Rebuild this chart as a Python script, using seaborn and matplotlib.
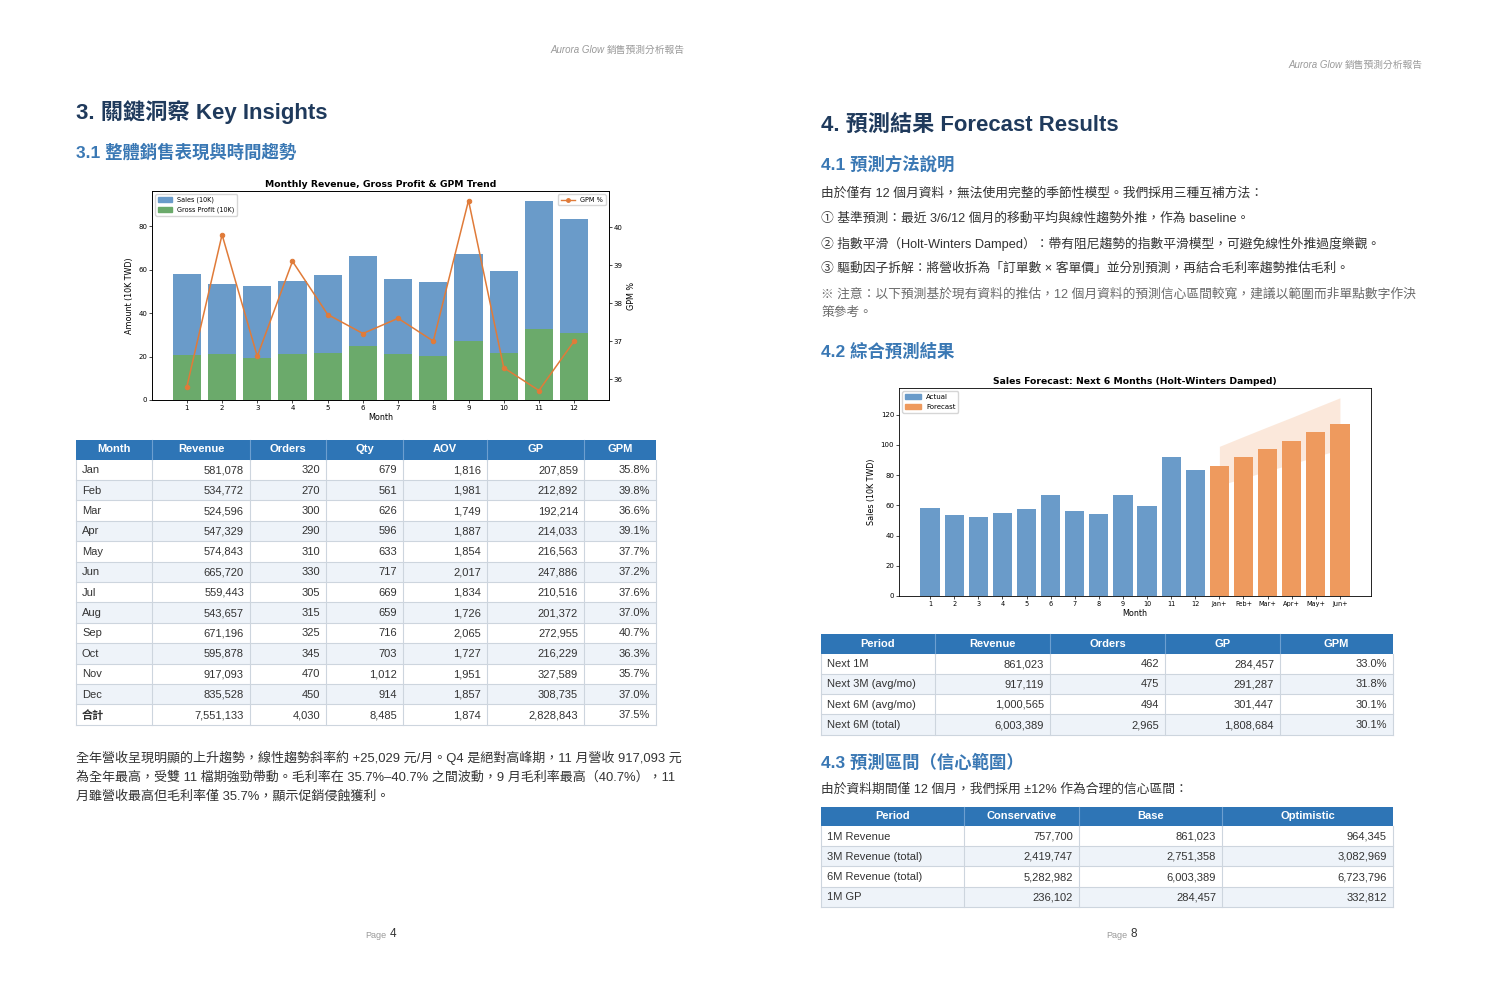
import matplotlib
matplotlib.use("Agg")
import matplotlib.pyplot as plt
import seaborn as sns
import numpy as np
import pandas as pd
from matplotlib.patches import Rectangle, Patch
from matplotlib.lines import Line2D

# ---------------- data ----------------
month_names = ["Jan", "Feb", "Mar", "Apr", "May", "Jun", "Jul", "Aug", "Sep", "Oct", "Nov", "Dec"]
month_nums = [1, 2, 3, 4, 5, 6, 7, 8, 9, 10, 11, 12]
revenue = [581078, 534772, 524596, 547329, 574843, 665720, 559443, 543657, 671196, 595878, 917093, 835528]
orders = [320, 270, 300, 290, 310, 330, 305, 315, 325, 345, 470, 450]
qty = [679, 561, 626, 596, 633, 717, 669, 659, 716, 703, 1012, 914]
aov = [1816, 1981, 1749, 1887, 1854, 2017, 1834, 1726, 2065, 1727, 1951, 1857]
gross_profit = [207859, 212892, 192214, 214033, 216563, 247886, 210516, 201372, 272955, 216229, 327589, 308735]
gpm = [35.8, 39.8, 36.6, 39.1, 37.7, 37.2, 37.6, 37.0, 40.7, 36.3, 35.7, 37.0]
totals = ["合計", 7551133, 4030, 8485, 1874, 2828843, 37.5]

forecast_labels = ["Jan+", "Feb+", "Mar+", "Apr+", "May+", "Jun+"]
forecast_sales = [86.10, 91.70, 97.31, 102.75, 108.45, 114.03]   # 10K TWD
forecast_lower = [73.2, 77.9, 82.7, 87.3, 92.2, 96.9]
forecast_upper = [99.0, 105.5, 111.9, 118.2, 124.7, 131.1]

fc_periods = ["Next 1M", "Next 3M (avg/mo)", "Next 6M (avg/mo)", "Next 6M (total)"]
fc_revenue = [861023, 917119, 1000565, 6003389]
fc_orders = [462, 475, 494, 2965]
fc_gp = [284457, 291287, 301447, 1808684]
fc_gpm = [33.0, 31.8, 30.1, 30.1]

ci_periods = ["1M Revenue", "3M Revenue (total)", "6M Revenue (total)", "1M GP"]
ci_conservative = [757700, 2419747, 5282982, 236102]
ci_base = [861023, 2751358, 6003389, 284457]
ci_optimistic = [964345, 3082969, 6723796, 332812]

# ---------------- style ----------------
W, H = 1496, 984
plt.rcParams["font.family"] = ["DejaVu Sans"]
PAGE_FONT = ["Liberation Sans", "Noto Sans CJK TC", "DejaVu Sans"]
BLUE = "#6A9BC9"
GREEN = "#6BAA6B"
ORANGE = "#E07B39"
ORANGE2 = "#EE9A5E"
HDR = "#2E75B6"
ALT = "#EEF3F9"
GRID = "#CDD5DE"
H1 = "#1F3A5C"
H2 = "#3A78B4"
TXT = "#333333"

fig = plt.figure(figsize=(W / 100, H / 100), dpi=100)
page = fig.add_axes([0, 0, 1, 1])
page.set_xlim(0, W)
page.set_ylim(H, 0)
page.set_autoscale_on(False)
page.axis("off")


def ax_rect(x0, y0, x1, y1):
    return [x0 / W, 1 - y1 / H, (x1 - x0) / W, (y1 - y0) / H]


def txt(x, y, s, size, color=TXT, weight="normal", ha="left", style="normal"):
    page.text(x, y, s, fontsize=size, color=color, fontweight=weight, ha=ha,
              va="center", fontfamily=PAGE_FONT, fontstyle=style)


def table(xe, y0, hh, rh, header, rows, bold_last=False):
    x0, x1 = xe[0], xe[-1]
    page.add_patch(Rectangle((x0, y0), x1 - x0, hh, facecolor=HDR, edgecolor="none"))
    for i, h in enumerate(header):
        txt((xe[i] + xe[i + 1]) / 2, y0 + hh / 2, h, 8, color="white", weight="bold", ha="center")
    for x in xe[1:-1]:
        page.plot([x, x], [y0, y0 + hh], color="#6D9FD0", lw=0.8)
    n = len(rows)
    for r, row in enumerate(rows):
        ry = y0 + hh + r * rh
        page.add_patch(Rectangle((x0, ry), x1 - x0, rh,
                                 facecolor=ALT if r % 2 else "white", edgecolor="none"))
        page.plot([x0, x1], [ry + rh, ry + rh], color=GRID, lw=0.8)
        bold = bold_last and r == n - 1
        for c, val in enumerate(row):
            if c == 0:
                txt(xe[0] + 6, ry + rh / 2 + 0.5, val, 8, weight="bold" if bold else "normal")
            else:
                txt(xe[c + 1] - 6, ry + rh / 2 + 0.5, val, 8, ha="right")
    for x in xe:
        page.plot([x, x], [y0 + hh, y0 + hh + n * rh], color=GRID, lw=0.8)


def num(v):
    return f"{v:,}"


def pct(v):
    return f"{v:.1f}%"


# ---------------- left page text ----------------
txt(604, 50, "Aurora Glow", 7.0, color="#9A9A9A", style="italic", ha="right")
txt(607, 50, "銷售預測分析報告", 7.0, color="#9A9A9A")
txt(76, 112, "3. 關鍵洞察 Key Insights", 16.0, color=H1, weight="bold")
txt(76, 152, "3.1 整體銷售表現與時間趨勢", 12.5, color=H2, weight="bold")

# ---------------- left chart ----------------
axL = fig.add_axes(ax_rect(152, 191, 609, 400))
dfL = pd.DataFrame({"Month": month_nums,
                    "Sales": np.array(revenue) / 1e4,
                    "GP": np.array(gross_profit) / 1e4})
sns.barplot(data=dfL, x="Month", y="Sales", native_scale=True, color=BLUE, saturation=1,
            width=0.8, errorbar=None, ax=axL)
sns.barplot(data=dfL, x="Month", y="GP", native_scale=True, color=GREEN, saturation=1,
            width=0.8, errorbar=None, ax=axL)
axL.set_xlim(0.01, 12.99)
axL.set_xticks(month_nums)
axL.set_xticklabels([str(m) for m in month_nums])
axL.set_xlabel("Month", fontsize=5.8, labelpad=1.5)
axL.set_ylabel("Amount (10K TWD)", fontsize=5.8, labelpad=3)
axL.set_title("Monthly Revenue, Gross Profit & GPM Trend", fontsize=6.7, fontweight="bold", pad=3)
axL.tick_params(labelsize=5.0, length=2, width=0.5, pad=1.5)
ax2 = axL.twinx()
sns.lineplot(x=month_nums, y=gpm, ax=ax2, color=ORANGE, marker="o", markersize=3.2,
             linewidth=1.1, markeredgecolor=ORANGE)
ax2.set_ylabel("GPM %", fontsize=5.8, labelpad=3)
ax2.tick_params(labelsize=5.0, length=2, width=0.5, pad=1.5)
for a in (axL, ax2):
    for s in a.spines.values():
        s.set_linewidth(0.6)
axL.legend(handles=[Patch(color=BLUE, label="Sales (10K)"),
                    Patch(color=GREEN, label="Gross Profit (10K)")],
           loc="upper left", fontsize=4.7, handlelength=2.2, borderpad=0.4,
           framealpha=0.8, edgecolor="#cccccc")
ax2.legend(handles=[Line2D([0], [0], color=ORANGE, marker="o", markersize=2.5, lw=1.0, label="GPM %")],
           loc="upper right", fontsize=4.7, handlelength=2.2, borderpad=0.4,
           framealpha=0.8, edgecolor="#cccccc")

# ---------------- left table ----------------
rowsL = []
for i in range(12):
    rowsL.append([month_names[i], num(revenue[i]), num(orders[i]), num(qty[i]),
                  num(aov[i]), num(gross_profit[i]), pct(gpm[i])])
rowsL.append([totals[0], num(totals[1]), num(totals[2]), num(totals[3]),
              num(totals[4]), num(totals[5]), pct(totals[6])])
table([76, 152, 250, 326, 403, 487, 584, 656], 439.5, 20, 20.4,
      ["Month", "Revenue", "Orders", "Qty", "AOV", "GP", "GPM"], rowsL, bold_last=True)

txt(76, 758, "全年營收呈現明顯的上升趨勢，線性趨勢斜率約 +25,029 元/月。Q4 是絕對高峰期，11 月營收 917,093 元", 9.4)
txt(76, 777, "為全年最高，受雙 11 檔期強勁帶動。毛利率在 35.7%–40.7% 之間波動，9 月毛利率最高（40.7%），11", 9.4)
txt(76, 796, "月雖營收最高但毛利率僅 35.7%，顯示促銷侵蝕獲利。", 9.4)

txt(365, 935, "Page", 6.5, color="#9A9A9A")
txt(390, 934, "4", 8.5, color="#333333")

# ---------------- right page text ----------------
txt(1342, 65, "Aurora Glow", 7.0, color="#9A9A9A", style="italic", ha="right")
txt(1345, 65, "銷售預測分析報告", 7.0, color="#9A9A9A")
txt(821, 126, "4. 預測結果 Forecast Results", 15.9, color=H1, weight="bold")
txt(821, 164, "4.1 預測方法說明", 12.5, color=H2, weight="bold")
txt(821, 193, "由於僅有 12 個月資料，無法使用完整的季節性模型。我們採用三種互補方法：", 9.2)
txt(821, 218, "① 基準預測：最近 3/6/12 個月的移動平均與線性趨勢外推，作為 baseline。", 9.2)
txt(821, 244, "② 指數平滑（Holt-Winters Damped）：帶有阻尼趨勢的指數平滑模型，可避免線性外推過度樂觀。", 9.2)
txt(821, 269, "③ 驅動因子拆解：將營收拆為「訂單數 × 客單價」並分別預測，再結合毛利率趨勢推估毛利。", 9.2)
txt(821, 295, "※ 注意：以下預測基於現有資料的推估，12 個月資料的預測信心區間較寬，建議以範圍而非單點數字作決", 9.2, color="#6A6A6A")
txt(821, 313, "策參考。", 9.2, color="#6A6A6A")
txt(821, 351, "4.2 綜合預測結果", 12.5, color=H2, weight="bold")

# ---------------- right chart ----------------
axR = fig.add_axes(ax_rect(899, 388, 1371, 596))
labels18 = [str(m) for m in month_nums] + forecast_labels
dfR = pd.DataFrame({"Period": labels18,
                    "Sales": list(np.array(revenue) / 1e4) + forecast_sales,
                    "Type": ["Actual"] * 12 + ["Forecast"] * 6})
sns.barplot(data=dfR, x="Period", y="Sales", hue="Type",
            palette={"Actual": BLUE, "Forecast": ORANGE2}, dodge=False, saturation=1,
            width=0.8, errorbar=None, legend=False, ax=axR)
fc_x = np.arange(12, 18)
axR.fill_between(fc_x, forecast_lower, forecast_upper, color=ORANGE2, alpha=0.22,
                 linewidth=0, zorder=0)
axR.set_xlim(-1.29, 18.29)
axR.set_ylim(0, 137.6)
axR.set_xlabel("Month", fontsize=5.8, labelpad=1.5)
axR.set_ylabel("Sales (10K TWD)", fontsize=5.8, labelpad=3)
axR.set_title("Sales Forecast: Next 6 Months (Holt-Winters Damped)", fontsize=6.7,
              fontweight="bold", pad=3)
axR.tick_params(axis="x", labelsize=4.7, length=2, width=0.5, pad=1.5)
axR.tick_params(axis="y", labelsize=5.0, length=2, width=0.5, pad=1.5)
for s in axR.spines.values():
    s.set_linewidth(0.6)
axR.legend(handles=[Patch(color=BLUE, label="Actual"), Patch(color=ORANGE2, label="Forecast")],
           loc="upper left", fontsize=5.0, handlelength=2.2, borderpad=0.4,
           framealpha=0.8, edgecolor="#cccccc")

# ---------------- right tables ----------------
rows1 = [[fc_periods[i], num(fc_revenue[i]), num(fc_orders[i]), num(fc_gp[i]), pct(fc_gpm[i])]
         for i in range(4)]
table([821, 935, 1050, 1165, 1280, 1393], 634, 19.5, 20.3,
      ["Period", "Revenue", "Orders", "GP", "GPM"], rows1)

txt(821, 762, "4.3 預測區間（信心範圍）", 12.5, color=H2, weight="bold")
txt(821, 790, "由於資料期間僅 12 個月，我們採用 ±12% 作為合理的信心區間：", 9.2)

rows2 = [[ci_periods[i], num(ci_conservative[i]), num(ci_base[i]), num(ci_optimistic[i])]
         for i in range(4)]
table([821, 964, 1079, 1222, 1393], 806.5, 19.5, 20.2,
      ["Period", "Conservative", "Base", "Optimistic"], rows2)

txt(1106, 935, "Page", 6.5, color="#9A9A9A")
txt(1131, 934, "8", 8.5, color="#333333")

fig.savefig("out.png", dpi=100, facecolor="white")
